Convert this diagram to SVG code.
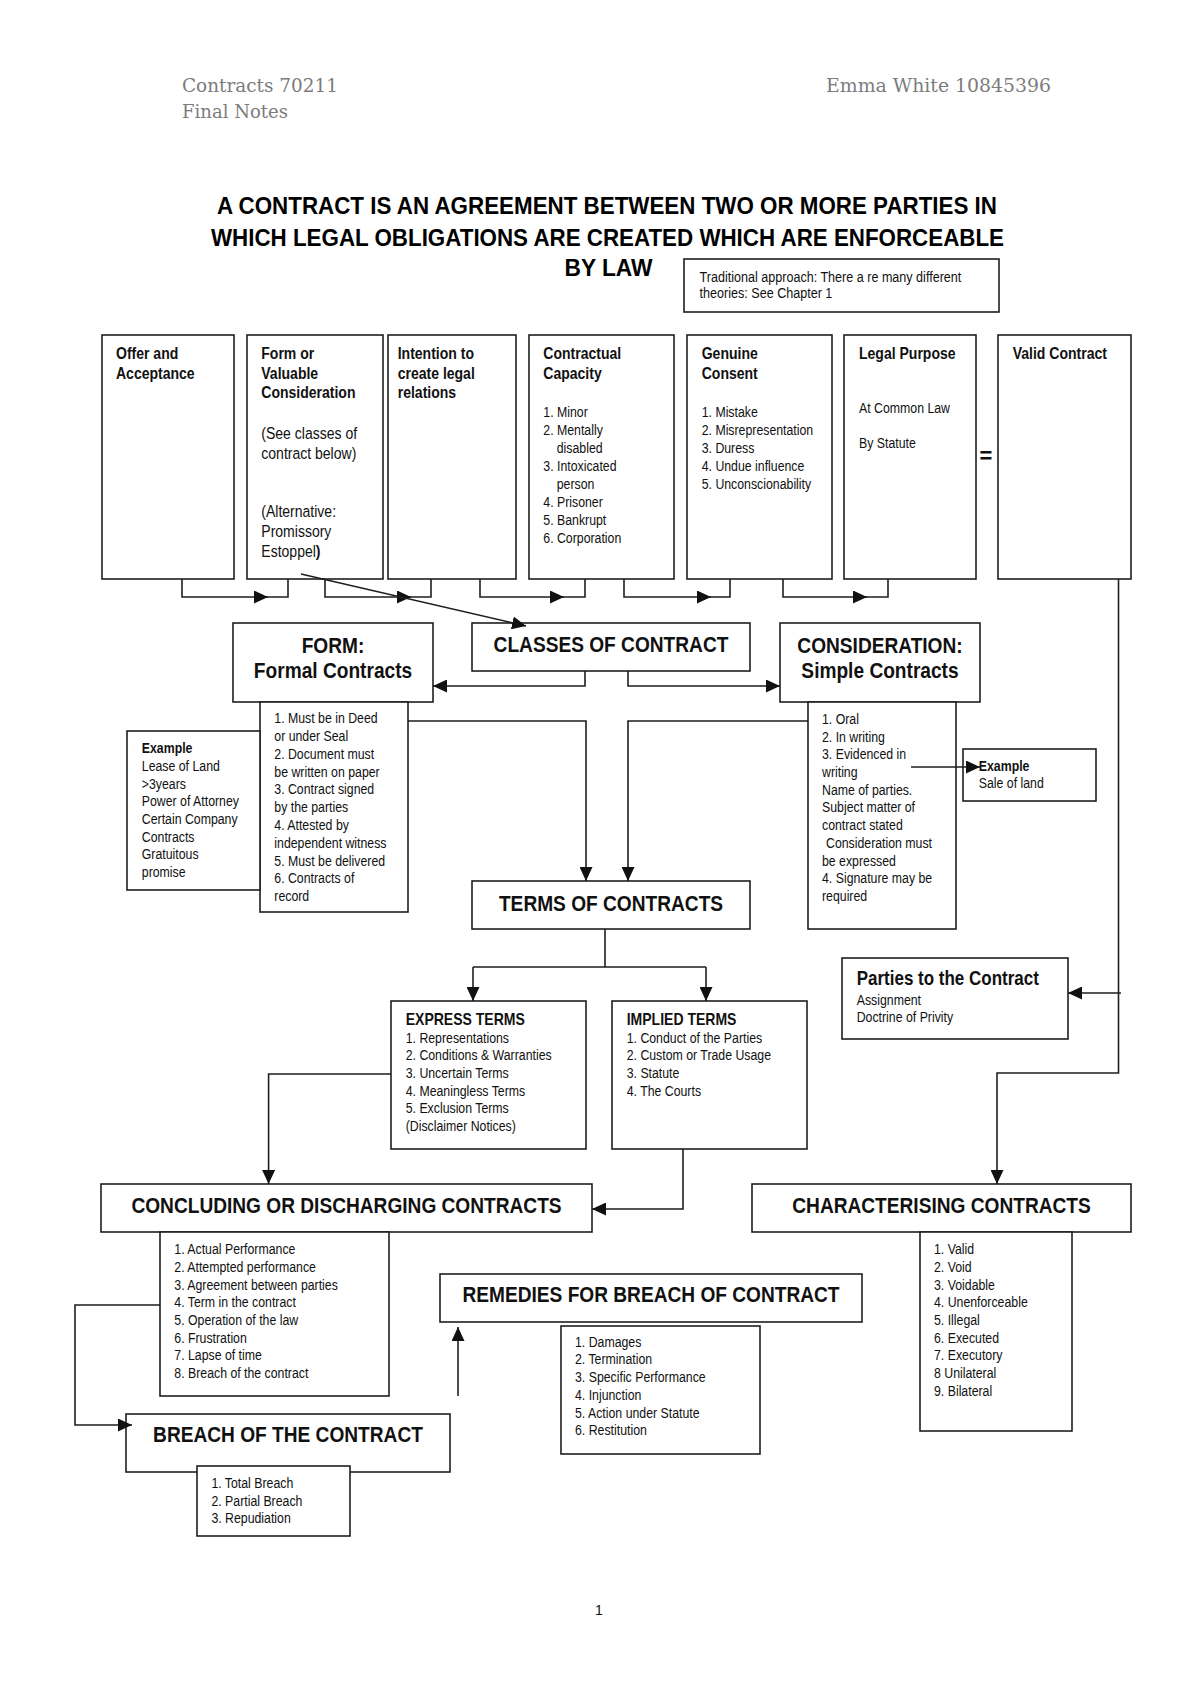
<svg xmlns="http://www.w3.org/2000/svg" width="1200" height="1698" viewBox="0 0 1200 1698">
<defs>
<style>
.box{fill:#fff;stroke:#1e1e1e;stroke-width:1.6}
.ln{fill:none;stroke:#1e1e1e;stroke-width:1.6}
.ar{fill:none;stroke:#1e1e1e;stroke-width:1.6;marker-end:url(#ah)}
.hb{font-family:"Liberation Sans",Arial,sans-serif;font-weight:bold;font-size:16.5px;fill:#111}
.r{font-family:"Liberation Sans",Arial,sans-serif;font-size:14.5px;fill:#111}
.rl{font-family:"Liberation Sans",Arial,sans-serif;font-size:16.5px;fill:#111}
.h2{font-family:"Liberation Sans",Arial,sans-serif;font-weight:bold;font-size:22.5px;fill:#111;text-anchor:middle}
.ti{font-family:"Liberation Sans",Arial,sans-serif;font-weight:bold;font-size:24px;fill:#000;text-anchor:middle}
.hd{font-family:"DejaVu Serif","Liberation Serif",serif;font-size:18px;fill:#7c7c7c}
</style>
<marker id="ah" markerUnits="userSpaceOnUse" viewBox="0 0 14 13" markerWidth="14" markerHeight="13" refX="14" refY="6.5" orient="auto">
<path d="M0,0 L14,6.5 L0,13 z" fill="#111"/>
</marker>
</defs>
<rect width="1200" height="1698" fill="#fff"/>

<g id="header">
<text class="hd" x="182" y="92" textLength="156" lengthAdjust="spacingAndGlyphs">Contracts 70211</text>
<text class="hd" x="182" y="118" textLength="106" lengthAdjust="spacingAndGlyphs">Final Notes</text>
<text class="hd" x="826" y="92" textLength="225" lengthAdjust="spacingAndGlyphs">Emma White 10845396</text>
</g>

<g id="title">
<text class="ti" x="607" y="214" textLength="780" lengthAdjust="spacingAndGlyphs">A CONTRACT IS AN AGREEMENT BETWEEN TWO OR MORE PARTIES IN</text>
<text class="ti" x="607.5" y="245.5" textLength="793" lengthAdjust="spacingAndGlyphs">WHICH LEGAL OBLIGATIONS ARE CREATED WHICH ARE ENFORCEABLE</text>
<text class="ti" x="608.5" y="275.5" textLength="88" lengthAdjust="spacingAndGlyphs">BY LAW</text>
</g>

<g id="n-traditional">
<rect class="box" x="684" y="259" width="315" height="53"/>
<text class="r" style="font-size:14.8px" transform="matrix(.85 0 0 1 699.6 281.7)"><tspan x="0">Traditional approach: There a re many different</tspan><tspan x="0" dy="16.7">theories: See Chapter 1</tspan></text>
</g>

<g id="n-offer">
<rect class="box" x="102" y="335" width="132" height="244"/>
<text class="hb" transform="matrix(.85 0 0 1 116 359.3)"><tspan x="0">Offer and</tspan><tspan x="0" dy="19.5">Acceptance</tspan></text>
</g>

<g id="n-form">
<rect class="box" x="247" y="335" width="136" height="244"/>
<text class="hb" transform="matrix(.85 0 0 1 261.3 359.3)"><tspan x="0">Form or</tspan><tspan x="0" dy="19.4">Valuable</tspan><tspan x="0" dy="19.4">Consideration</tspan></text>
<text class="rl" transform="matrix(.85 0 0 1 261.3 439.3)"><tspan x="0">(See classes of</tspan><tspan x="0" dy="20">contract below)</tspan><tspan x="0" dy="58">(Alternative:</tspan><tspan x="0" dy="20">Promissory</tspan><tspan x="0" dy="20">Estoppel<tspan font-weight="bold">)</tspan></tspan></text>
</g>

<g id="n-intention">
<rect class="box" x="388" y="335" width="128" height="244"/>
<text class="hb" transform="matrix(.85 0 0 1 397.7 359.3)"><tspan x="0">Intention to</tspan><tspan x="0" dy="19.4">create legal</tspan><tspan x="0" dy="19.4">relations</tspan></text>
</g>

<g id="n-capacity">
<rect class="box" x="529" y="335" width="145" height="244"/>
<text class="hb" transform="matrix(.85 0 0 1 543.3 359.3)"><tspan x="0">Contractual</tspan><tspan x="0" dy="20">Capacity</tspan></text>
<text class="r" transform="matrix(.85 0 0 1 543.3 417.3)"><tspan x="0">1. Minor</tspan><tspan x="0" dy="17.9">2. Mentally</tspan><tspan x="15.8" dy="17.9">disabled</tspan><tspan x="0" dy="17.9">3. Intoxicated</tspan><tspan x="15.8" dy="17.9">person</tspan><tspan x="0" dy="17.9">4. Prisoner</tspan><tspan x="0" dy="17.9">5. Bankrupt</tspan><tspan x="0" dy="17.9">6. Corporation</tspan></text>
</g>

<g id="n-consent">
<rect class="box" x="687" y="335" width="145" height="244"/>
<text class="hb" transform="matrix(.85 0 0 1 701.7 359.3)"><tspan x="0">Genuine</tspan><tspan x="0" dy="20">Consent</tspan></text>
<text class="r" transform="matrix(.85 0 0 1 701.7 417.3)"><tspan x="0">1. Mistake</tspan><tspan x="0" dy="17.9">2. Misrepresentation</tspan><tspan x="0" dy="17.9">3. Duress</tspan><tspan x="0" dy="17.9">4. Undue influence</tspan><tspan x="0" dy="17.9">5. Unconscionability</tspan></text>
</g>

<g id="n-legal">
<rect class="box" x="844" y="335" width="132" height="244"/>
<text class="hb" transform="matrix(.85 0 0 1 859 359.3)">Legal Purpose</text>
<text class="r" transform="matrix(.85 0 0 1 859 412.7)"><tspan x="0">At Common Law</tspan><tspan x="0" dy="35.3">By Statute</tspan></text>
</g>

<g id="n-equals">
<text x="986" y="463" text-anchor="middle" style="font-family:'Liberation Sans',Arial,sans-serif;font-weight:bold;font-size:22px;fill:#111">=</text>
</g>

<g id="n-valid">
<rect class="box" x="998" y="335" width="133" height="244"/>
<text class="hb" transform="matrix(.85 0 0 1 1012.7 359.3)">Valid Contract</text>
</g>

<g id="n-classes">
<rect class="box" x="472" y="623" width="278" height="48"/>
<text class="h2" transform="matrix(.85 0 0 1 611 652)">CLASSES OF CONTRACT</text>
</g>

<g id="n-formal">
<rect class="box" x="233" y="623" width="200" height="79"/>
<text class="h2" transform="matrix(.85 0 0 1 333 652.7)"><tspan x="0">FORM:</tspan><tspan x="0" dy="25.6">Formal Contracts</tspan></text>
<rect class="box" x="260" y="702" width="148" height="210"/>
<text class="r" transform="matrix(.85 0 0 1 274.3 723.3)"><tspan x="0">1. Must be in Deed</tspan><tspan x="0" dy="17.8">or under Seal</tspan><tspan x="0" dy="17.8">2. Document must</tspan><tspan x="0" dy="17.8">be written on paper</tspan><tspan x="0" dy="17.8">3. Contract signed</tspan><tspan x="0" dy="17.8">by the parties</tspan><tspan x="0" dy="17.8">4. Attested by</tspan><tspan x="0" dy="17.8">independent witness</tspan><tspan x="0" dy="17.8">5. Must be delivered</tspan><tspan x="0" dy="17.8">6. Contracts of</tspan><tspan x="0" dy="17.8">record</tspan></text>
</g>

<g id="n-formal-example">
<rect class="box" x="127" y="731" width="133" height="159"/>
<text class="r" transform="matrix(.85 0 0 1 141.8 753.3)"><tspan x="0" font-weight="bold">Example</tspan><tspan x="0" dy="17.7">Lease of Land</tspan><tspan x="0" dy="17.7">&gt;3years</tspan><tspan x="0" dy="17.7">Power of Attorney</tspan><tspan x="0" dy="17.7">Certain Company</tspan><tspan x="0" dy="17.7">Contracts</tspan><tspan x="0" dy="17.7">Gratuitous</tspan><tspan x="0" dy="17.7">promise</tspan></text>
</g>

<g id="n-simple">
<rect class="box" x="780" y="623" width="200" height="79"/>
<text class="h2" transform="matrix(.85 0 0 1 880 652.7)"><tspan x="0">CONSIDERATION:</tspan><tspan x="0" dy="25.6">Simple Contracts</tspan></text>
<rect class="box" x="808" y="702" width="148" height="227"/>
<text class="r" transform="matrix(.85 0 0 1 822 724)"><tspan x="0">1. Oral</tspan><tspan x="0" dy="17.7">2. In writing</tspan><tspan x="0" dy="17.7">3. Evidenced in</tspan><tspan x="0" dy="17.7">writing</tspan><tspan x="0" dy="17.7">Name of parties.</tspan><tspan x="0" dy="17.7">Subject matter of</tspan><tspan x="0" dy="17.7">contract stated</tspan><tspan x="4.7" dy="17.7">Consideration must</tspan><tspan x="0" dy="17.7">be expressed</tspan><tspan x="0" dy="17.7">4. Signature may be</tspan><tspan x="0" dy="17.7">required</tspan></text>
</g>

<g id="n-simple-example">
<rect class="box" x="963" y="749" width="133" height="52"/>
<text class="r" transform="matrix(.85 0 0 1 978.8 770.7)"><tspan x="0" font-weight="bold">Example</tspan><tspan x="0" dy="17.6">Sale of land</tspan></text>
</g>

<g id="n-terms">
<rect class="box" x="472" y="881" width="278" height="48"/>
<text class="h2" transform="matrix(.85 0 0 1 611 911)">TERMS OF CONTRACTS</text>
</g>

<g id="n-express">
<rect class="box" x="391" y="1001" width="195" height="148"/>
<text class="hb" transform="matrix(.85 0 0 1 405.7 1025)">EXPRESS TERMS</text>
<text class="r" transform="matrix(.85 0 0 1 405.7 1042.5)"><tspan x="0">1. Representations</tspan><tspan x="0" dy="17.7">2. Conditions &amp; Warranties</tspan><tspan x="0" dy="17.7">3. Uncertain Terms</tspan><tspan x="0" dy="17.7">4. Meaningless Terms</tspan><tspan x="0" dy="17.7">5. Exclusion Terms</tspan><tspan x="0" dy="17.7">(Disclaimer Notices)</tspan></text>
</g>

<g id="n-implied">
<rect class="box" x="612" y="1001" width="195" height="148"/>
<text class="hb" transform="matrix(.85 0 0 1 626.7 1025)">IMPLIED TERMS</text>
<text class="r" transform="matrix(.85 0 0 1 626.7 1042.5)"><tspan x="0">1. Conduct of the Parties</tspan><tspan x="0" dy="17.7">2. Custom or Trade Usage</tspan><tspan x="0" dy="17.7">3. Statute</tspan><tspan x="0" dy="17.7">4. The Courts</tspan></text>
</g>

<g id="n-parties">
<rect class="box" x="842" y="958" width="226" height="81"/>
<text class="hb" style="font-size:20px" transform="matrix(.85 0 0 1 856.7 985)">Parties to the Contract</text>
<text class="r" transform="matrix(.85 0 0 1 856.7 1004.5)"><tspan x="0">Assignment</tspan><tspan x="0" dy="18">Doctrine of Privity</tspan></text>
</g>

<g id="n-concluding">
<rect class="box" x="101" y="1184" width="491" height="48"/>
<text class="h2" transform="matrix(.85 0 0 1 346.5 1213.3)">CONCLUDING OR DISCHARGING CONTRACTS</text>
<rect class="box" x="160" y="1232" width="229" height="164"/>
<text class="r" transform="matrix(.85 0 0 1 174.3 1254.3)"><tspan x="0">1. Actual Performance</tspan><tspan x="0" dy="17.7">2. Attempted performance</tspan><tspan x="0" dy="17.7">3. Agreement between parties</tspan><tspan x="0" dy="17.7">4. Term in the contract</tspan><tspan x="0" dy="17.7">5. Operation of the law</tspan><tspan x="0" dy="17.7">6. Frustration</tspan><tspan x="0" dy="17.7">7. Lapse of time</tspan><tspan x="0" dy="17.7">8. Breach of the contract</tspan></text>
</g>

<g id="n-characterising">
<rect class="box" x="752" y="1184" width="379" height="48"/>
<text class="h2" transform="matrix(.85 0 0 1 941.5 1213.3)">CHARACTERISING CONTRACTS</text>
<rect class="box" x="920" y="1232" width="152" height="199"/>
<text class="r" transform="matrix(.85 0 0 1 934 1254.3)"><tspan x="0">1. Valid</tspan><tspan x="0" dy="17.7">2. Void</tspan><tspan x="0" dy="17.7">3. Voidable</tspan><tspan x="0" dy="17.7">4. Unenforceable</tspan><tspan x="0" dy="17.7">5. Illegal</tspan><tspan x="0" dy="17.7">6. Executed</tspan><tspan x="0" dy="17.7">7. Executory</tspan><tspan x="0" dy="17.7">8 Unilateral</tspan><tspan x="0" dy="17.7">9. Bilateral</tspan></text>
</g>

<g id="n-remedies">
<rect class="box" x="440" y="1274" width="422" height="48"/>
<text class="h2" transform="matrix(.85 0 0 1 651 1301.7)">REMEDIES FOR BREACH OF CONTRACT</text>
<rect class="box" x="561" y="1326" width="199" height="128"/>
<text class="r" transform="matrix(.85 0 0 1 575 1346.5)"><tspan x="0">1. Damages</tspan><tspan x="0" dy="17.8">2. Termination</tspan><tspan x="0" dy="17.8">3. Specific Performance</tspan><tspan x="0" dy="17.8">4. Injunction</tspan><tspan x="0" dy="17.8">5. Action under Statute</tspan><tspan x="0" dy="17.8">6. Restitution</tspan></text>
</g>

<g id="n-breach">
<rect class="box" x="126" y="1414" width="324" height="58"/>
<text class="h2" transform="matrix(.85 0 0 1 288 1441.7)">BREACH OF THE CONTRACT</text>
<rect class="box" x="197" y="1466" width="153" height="70"/>
<text class="r" transform="matrix(.85 0 0 1 211.4 1488.3)"><tspan x="0">1. Total Breach</tspan><tspan x="0" dy="17.5">2. Partial Breach</tspan><tspan x="0" dy="17.5">3. Repudiation</tspan></text>
</g>

<g id="connectors">
<path class="ar" d="M182,579 V597 H268"/><path class="ln" d="M267,597 H288 V579"/>
<path class="ar" d="M325,579 V597 H411"/><path class="ln" d="M410,597 H431 V579"/>
<path class="ar" d="M480,579 V597 H564"/><path class="ln" d="M563,597 H585 V579"/>
<path class="ar" d="M624,579 V597 H711"/><path class="ln" d="M710,597 H730 V579"/>
<path class="ar" d="M783,579 V597 H867"/><path class="ln" d="M866,597 H888 V579"/>
<path class="ar" d="M301,574 L526,626"/>
<path class="ar" d="M585,671 V686 H433"/>
<path class="ar" d="M628,671 V686 H780"/>
<path class="ar" d="M408,721 H586 V881"/>
<path class="ar" d="M808,721 H628 V881"/>
<path class="ar" d="M911,767 H980"/>
<path class="ln" d="M605,929 V967 M473,967 H706"/>
<path class="ar" d="M473,967 V1001"/>
<path class="ar" d="M706,967 V1001"/>
<path class="ar" d="M1118.5,579 V1073 H997 V1184"/>
<path class="ar" d="M1121,993 H1068"/>
<path class="ar" d="M391,1074 H268.6 V1184"/>
<path class="ar" d="M683,1149 V1209 H592"/>
<path class="ar" d="M160,1305 H75 V1425 H132"/>
<path class="ar" d="M458,1396 V1327"/>
</g>

<g id="page-number">
<text x="599" y="1615" text-anchor="middle" style="font-family:'Liberation Sans',Arial,sans-serif;font-size:14px;fill:#111">1</text>
</g>
</svg>
